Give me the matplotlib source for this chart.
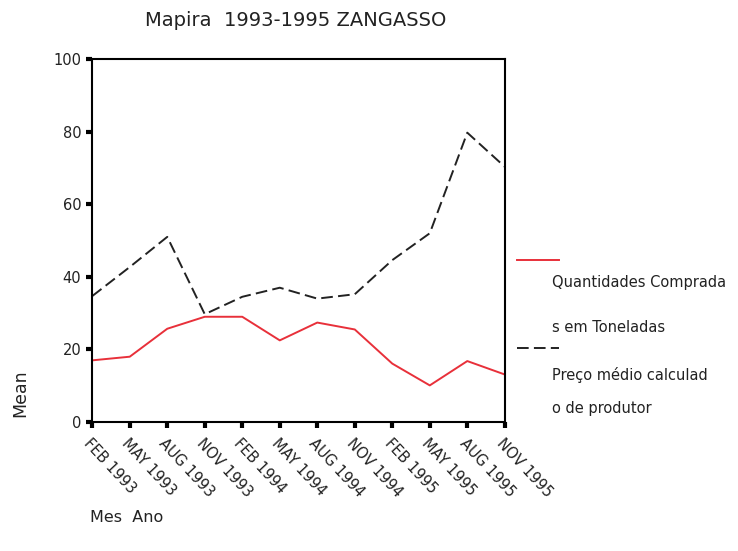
import matplotlib.pyplot as plt
from matplotlib.lines import Line2D

plt.rcParams['font.family'] = ['DejaVu Sans']

# meses / anos
meses = ['FEB 1993', 'MAY 1993', 'AUG 1993', 'NOV 1993',
         'FEB 1994', 'MAY 1994', 'AUG 1994', 'NOV 1994',
         'FEB 1995', 'MAY 1995', 'AUG 1995', 'NOV 1995']
quantidades = [17, 18, 25.7, 29, 29, 22.5, 27.4, 25.5, 16.1, 10.1, 16.8, 13.1]
preco = [34.7, 42.7, 51, 29.7, 34.5, 37, 34, 35.2, 44.6, 52, 79.7, 70.3]

fig = plt.figure(figsize=(7.38, 5.51), dpi=100)
ax = fig.add_axes([0.125, 0.234, 0.559, 0.659])

x = list(range(len(meses)))
ax.plot(x, quantidades, color='#e8303a', lw=1.4)
ax.plot(x, preco, color='#222222', lw=1.4, dashes=(6, 2.7))

ax.set_xlim(0, len(meses) - 1)
ax.set_ylim(0, 100)
ax.set_yticks([0, 20, 40, 60, 80, 100])
ax.set_xticks(x)
ax.set_xticklabels(meses, rotation=-47, ha='left', va='top',
                   rotation_mode='anchor', fontsize=9.5, color='#222222')
ax.tick_params(axis='both', direction='out', length=4, width=3, labelsize=10.5,
               labelcolor='#222222')
ax.tick_params(axis='x', pad=6)
ax.tick_params(axis='y', pad=4)
for s in ax.spines.values():
    s.set_linewidth(1.5)

fig.text(0.401, 0.962, 'Mapira  1993-1995 ZANGASSO', ha='center', va='center',
         fontsize=14, color='#222222')
fig.text(0.027, 0.287, 'Mean', rotation=90, ha='center', va='center',
         fontsize=12.5, color='#222222')
fig.text(0.172, 0.06, 'Mes  Ano', ha='center', va='center', fontsize=11.5,
         color='#222222')

# legenda manual
fig.add_artist(Line2D([0.70, 0.757], [1 - 260 / 551] * 2, color='#e8303a', lw=1.4))
fig.add_artist(Line2D([0.70, 0.757], [1 - 348 / 551] * 2, color='#222222', lw=1.4,
                      dashes=(6, 2.7)))
leg_txt = [('Quantidades Comprada', 282), ('s em Toneladas', 327),
           ('Preço médio calculad', 375), ('o de produtor', 409)]
for t, yy in leg_txt:
    fig.text(0.748, 1 - yy / 551, t, ha='left', va='center', fontsize=10.5,
             color='#222222')

fig.savefig('out.png', dpi=100)
